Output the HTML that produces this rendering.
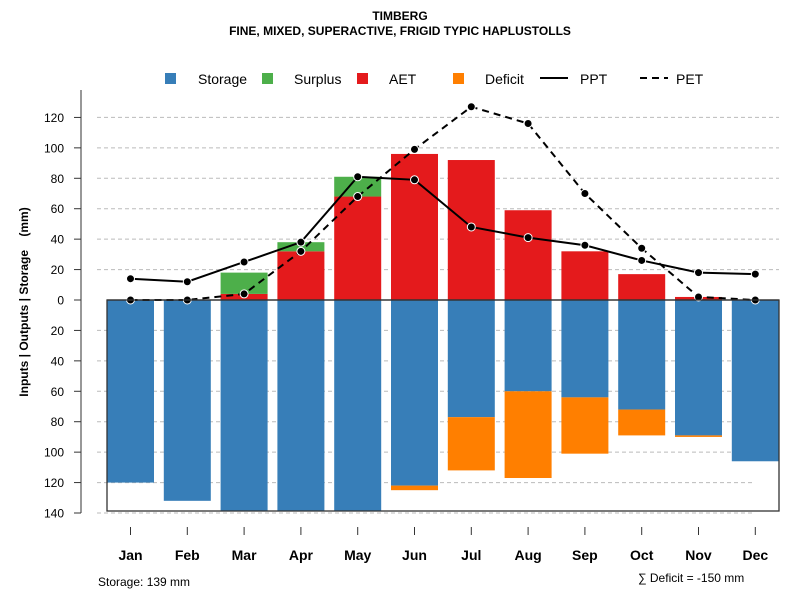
<!DOCTYPE html>
<html><head><meta charset="utf-8"><style>
body{margin:0;background:#fff}
svg{font-family:"Liberation Sans",sans-serif}
</style></head><body>
<svg width="800" height="600" viewBox="0 0 800 600" id="chart">
<text x="400" y="20" text-anchor="middle" font-size="12" font-weight="bold">TIMBERG</text>
<text x="400" y="35" text-anchor="middle" font-size="12" font-weight="bold">FINE, MIXED, SUPERACTIVE, FRIGID TYPIC HAPLUSTOLLS</text>
<g id="grid"></g>
<g id="bars"></g>
<g id="lines"></g>
<g id="axes"></g>
<g font-size="14">
<rect x="165" y="73" width="11" height="11" fill="#377eb8"/>
<text x="198" y="84">Storage</text>
<rect x="262" y="73" width="11" height="11" fill="#4daf4a"/>
<text x="294" y="84">Surplus</text>
<rect x="357" y="73" width="11" height="11" fill="#e41a1c"/>
<text x="389" y="84">AET</text>
<rect x="453" y="73" width="11" height="11" fill="#ff7f00"/>
<text x="485" y="84">Deficit</text>
<line x1="540" y1="78" x2="568" y2="78" stroke="#000" stroke-width="2"/>
<text x="580" y="84">PPT</text>
<line x1="640" y1="78" x2="668" y2="78" stroke="#000" stroke-width="2" stroke-dasharray="7,5"/>
<text x="676" y="84">PET</text>
</g>
<text transform="translate(28,302) rotate(-90)" text-anchor="middle" font-size="12" font-weight="bold">Inputs | Outputs | Storage&#160;&#160;&#160;&#160;(mm)</text>
<text x="98" y="586" font-size="12">Storage: 139 mm</text>
<text x="638" y="582" font-size="12">∑ Deficit = -150 mm</text>
</svg>
<script>
const months=["Jan","Feb","Mar","Apr","May","Jun","Jul","Aug","Sep","Oct","Nov","Dec"];
const storage=[120,132,139,139,139,122,77,60,64,72,89,106];
const deficit=[0,0,0,0,0,3,35,57,37,17,1,0];
const aet=[0,0,4,32,68,96,92,59,32,17,2,0];
const surplus=[0,0,14,6,13,0,0,0,0,0,0,0];
const ppt=[14,12,25,38,81,79,48,41,36,26,18,17];
const pet=[0,0,4,32,68,99,127,116,70,34,2,0];
const ticksUp=[120,100,80,60,40,20,0];
const ticksDown=[20,40,60,80,100,120,140];
const NS="http://www.w3.org/2000/svg";
const y0=300,k=1.5214;
const yUp=v=>y0-v*k, yDn=v=>y0+v*k;
const xC=i=>130.5+i*56.8;
const bw=47;
function mk(t,a,p){const e=document.createElementNS(NS,t);for(const n in a)e.setAttribute(n,a[n]);p.appendChild(e);return e;}
const grid=document.getElementById('grid'),bars=document.getElementById('bars'),lines=document.getElementById('lines'),axes=document.getElementById('axes');
ticksUp.forEach(v=>{if(v===0)return;const l=mk('line',{x1:97,x2:779,y1:yUp(v),y2:yUp(v),stroke:'#bbb','stroke-dasharray':'4,3'},grid);

});
ticksDown.forEach(v=>{const l=mk('line',{x1:97,x2:755,y1:yDn(v),y2:yDn(v),stroke:'#bbb','stroke-dasharray':'4,3'},grid);

});
const box=mk('rect',{x:107,y:y0,width:672,height:211,fill:'none',stroke:'#333','stroke-width':1.3},axes);


months.forEach((m,i)=>{
 const x=xC(i)-bw/2;
 let r=mk('rect',{x:x,y:y0,width:bw,height:storage[i]*k,fill:'#377eb8'},bars);
 
 
 if(deficit[i]>0){r=mk('rect',{x:x,y:yDn(storage[i]),width:bw,height:deficit[i]*k,fill:'#ff7f00'},bars);
 
 }
 if(aet[i]>0){r=mk('rect',{x:x,y:yUp(aet[i]),width:bw,height:aet[i]*k,fill:'#e41a1c'},bars);
 
 }
 if(surplus[i]>0){r=mk('rect',{x:x,y:yUp(aet[i]+surplus[i]),width:bw,height:surplus[i]*k,fill:'#4daf4a'},bars);
 
 }
 const t=mk('line',{x1:xC(i),x2:xC(i),y1:527,y2:535,stroke:'#333'},axes);
 
 
 const tx=mk('text',{x:xC(i),y:560,'text-anchor':'middle','font-size':14,'font-weight':'bold'},axes);
 tx.textContent=m;
 
 
});
const zl=mk('line',{x1:107,x2:779,y1:y0,y2:y0,stroke:'#333','stroke-width':1.2},bars);


[[ppt,'','ppt'],[pet,'7,5','pet']].forEach(([d,da,nm])=>{
 const p=mk('polyline',{points:d.map((v,i)=>xC(i)+','+yUp(v)).join(' '),fill:'none',stroke:'#000','stroke-width':2,'stroke-dasharray':da},lines);
 
 
 d.forEach((v,i)=>{const c=mk('circle',{cx:xC(i),cy:yUp(v),r:4,fill:'#000',stroke:'#fff','stroke-width':1},lines);
 
 });
});
const ya=mk('line',{x1:81,x2:81,y1:90,y2:513,stroke:'#777','stroke-width':1.5},axes);


function ytick(v,y){const t=mk('line',{x1:74,x2:81,y1:y,y2:y,stroke:'#333'},axes);


const tx=mk('text',{x:64,y:y+4.5,'text-anchor':'end','font-size':12},axes);tx.textContent=v;

}
ticksUp.forEach(v=>ytick(v,yUp(v)));
ticksDown.forEach(v=>ytick(v,yDn(v)));
</script>
</body></html>
